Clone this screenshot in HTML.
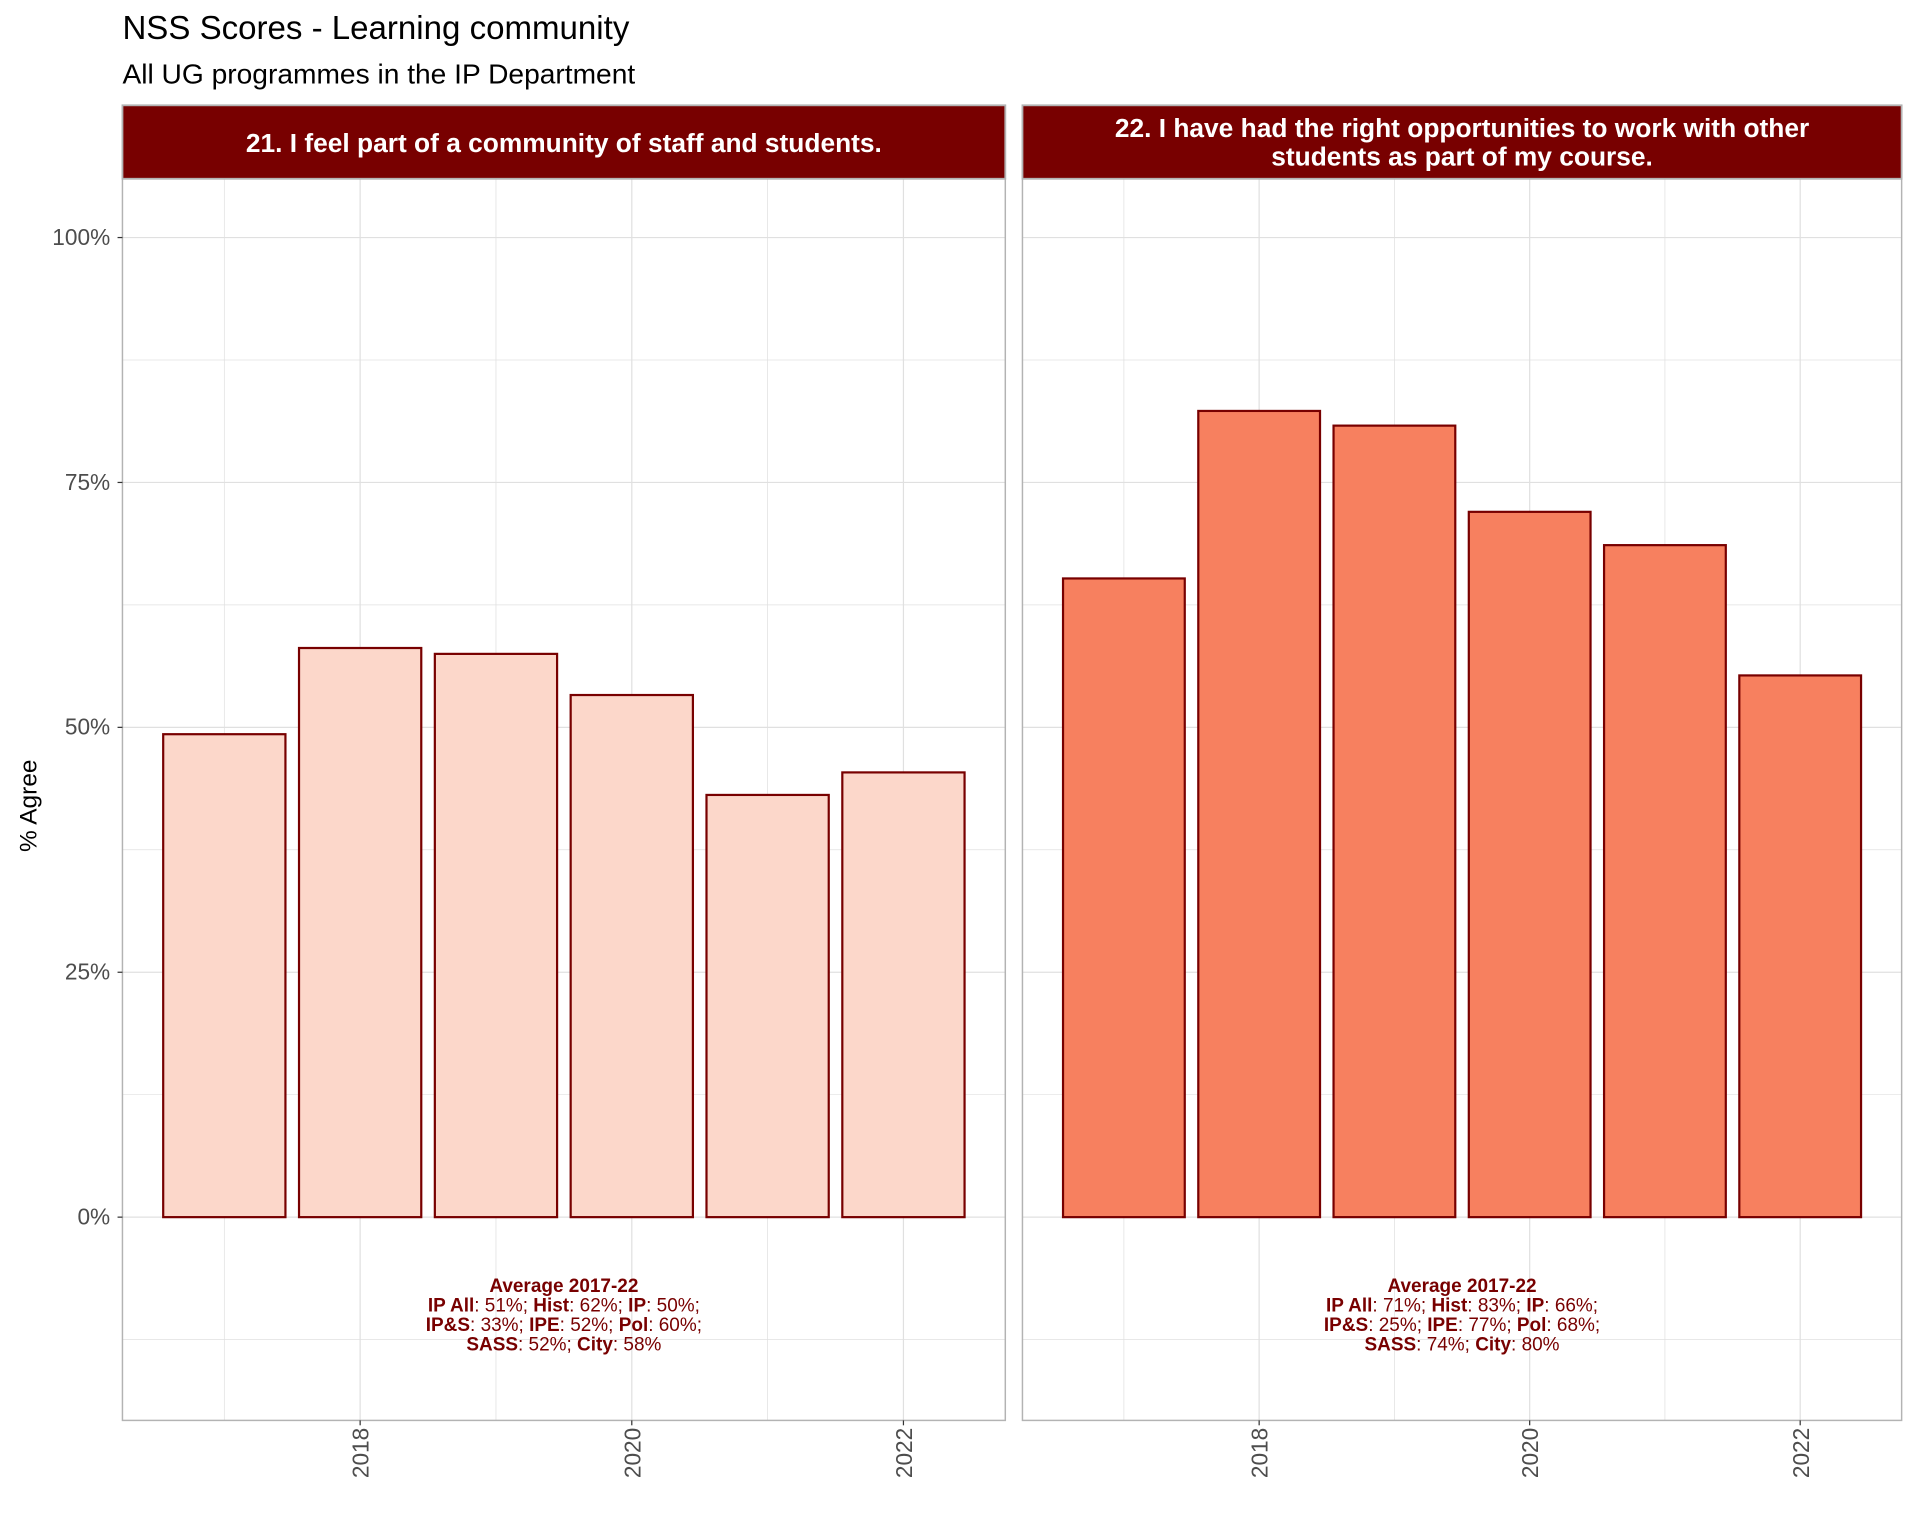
<!DOCTYPE html>
<html><head><meta charset="utf-8"><style>body{margin:0;background:#fff}svg{display:block}text{font-family:"Liberation Sans",Arial,sans-serif}</style></head>
<body>
<svg id="chart" width="1920" height="1536" viewBox="0 0 1568 1254.4" xmlns="http://www.w3.org/2000/svg">
<text x="100" y="32" font-size="27" fill="#000">NSS Scores - Learning community</text>
<text x="100" y="68" font-size="23" fill="#000">All UG programmes in the IP Department</text>
<text transform="translate(30,658) rotate(-90)" text-anchor="middle" font-size="20" fill="#000">% Agree</text>
<g id="plots"></g>
</svg>
<script>
const years=[2017,2018,2019,2020,2021,2022];
const q21=[49.3,58.1,57.5,53.3,43.1,45.4];
const q22=[65.2,82.3,80.8,72.0,68.6,55.3];
const yTicks=[0,25,50,75,100];
const yTickLabels=["0%","25%","50%","75%","100%"];
const xTicks=[2018,2020,2022];
const titles=["21. I feel part of a community of staff and students.","22. I have had the right opportunities to work with other|students as part of my course."];
const notes=[["IP All","51%","Hist","62%","IP","50%","IP&S","33%","IPE","52%","Pol","60%","SASS","52%","City","58%"],["IP All","71%","Hist","83%","IP","66%","IP&S","25%","IPE","77%","Pol","68%","SASS","74%","City","80%"]];
const NS="http://www.w3.org/2000/svg";
const g=document.getElementById('plots');
function mk(t,a,p){const e=document.createElementNS(NS,t);for(const k in a)e.setAttribute(k,a[k]);(p||g).appendChild(e);return e;}
const plotTop=146,plotBot=1160;
function yScale(v){return 994-v*8;}
const panels=[{x0:100,x1:821,d:q21,fill:"#fcd7ca"},{x0:835,x1:1553,d:q22,fill:"#f7805f"}];
panels.forEach((p,i)=>{
  const w=p.x1-p.x0;
  const xs=v=>p.x0+(v-2016.25)/(6.5)*w;
  const bw=(xs(2018)-xs(2017))*0.9;
  for(let v=-12.5;v<=106;v+=12.5){const l=mk('line',{x1:p.x0,x2:p.x1,y1:yScale(v),y2:yScale(v),stroke:"#e0e0e0","stroke-width":v%25===0?1:0.6});}
  years.forEach(v=>{const l=mk('line',{x1:xs(v),x2:xs(v),y1:plotTop,y2:plotBot,stroke:"#e0e0e0","stroke-width":v%2===0?1:0.6});});
  p.d.forEach((val,j)=>{const r=mk('rect',{x:xs(years[j])-bw/2,y:yScale(val),width:bw,height:yScale(0)-yScale(val),fill:p.fill,stroke:"#780000","stroke-width":1.8});});
  const b=mk('rect',{x:p.x0,y:plotTop,width:w,height:plotBot-plotTop,fill:"none",stroke:"#b3b3b3","stroke-width":1.2});
  const s=mk('rect',{x:p.x0,y:86,width:w,height:60,fill:"#780000",stroke:"#b3b3b3","stroke-width":1.5});
  const lines=titles[i].split('|');
  lines.forEach((ln,k)=>{const t=mk('text',{x:(p.x0+p.x1)/2,y:(lines.length===1?124:112)+k*23,"text-anchor":"middle","font-size":"21.5","font-weight":"bold",fill:"#fff"});t.textContent=ln;});
  xTicks.forEach(v=>{const t=mk('text',{transform:`translate(${xs(v)+7},1166) rotate(-90)`,"text-anchor":"end","font-size":"18.5",fill:"#4d4d4d"});t.textContent=v;
    mk('line',{x1:xs(v),x2:xs(v),y1:plotBot,y2:plotBot+4,stroke:"#333"});});
  const cx=(p.x0+p.x1)/2,n=notes[i];
  const rows=[[["Average 2017-22",""]],[[n[0],n[1]],[n[2],n[3]],[n[4],n[5]]],[[n[6],n[7]],[n[8],n[9]],[n[10],n[11]]],[[n[12],n[13]],[n[14],n[15]]]];
  rows.forEach((row,k)=>{const t=mk('text',{x:cx,y:1055+k*16,"text-anchor":"middle","font-size":"15.5",fill:"#780000"});
    row.forEach((pr,m)=>{const a=mk('tspan',{"font-weight":"bold"},t);a.textContent=pr[0];if(pr[1]){const c=mk('tspan',{},t);const last=(k===rows.length-1&&m===row.length-1);c.textContent=": "+pr[1]+(last?"":"; ");}});
  });
});
yTicks.forEach((v,k)=>{const t=mk('text',{x:90,y:yScale(v)+6,"text-anchor":"end","font-size":"18.5",fill:"#4d4d4d"});t.textContent=yTickLabels[k];
  mk('line',{x1:96,x2:100,y1:yScale(v),y2:yScale(v),stroke:"#333"});});
</script>
</body></html>
